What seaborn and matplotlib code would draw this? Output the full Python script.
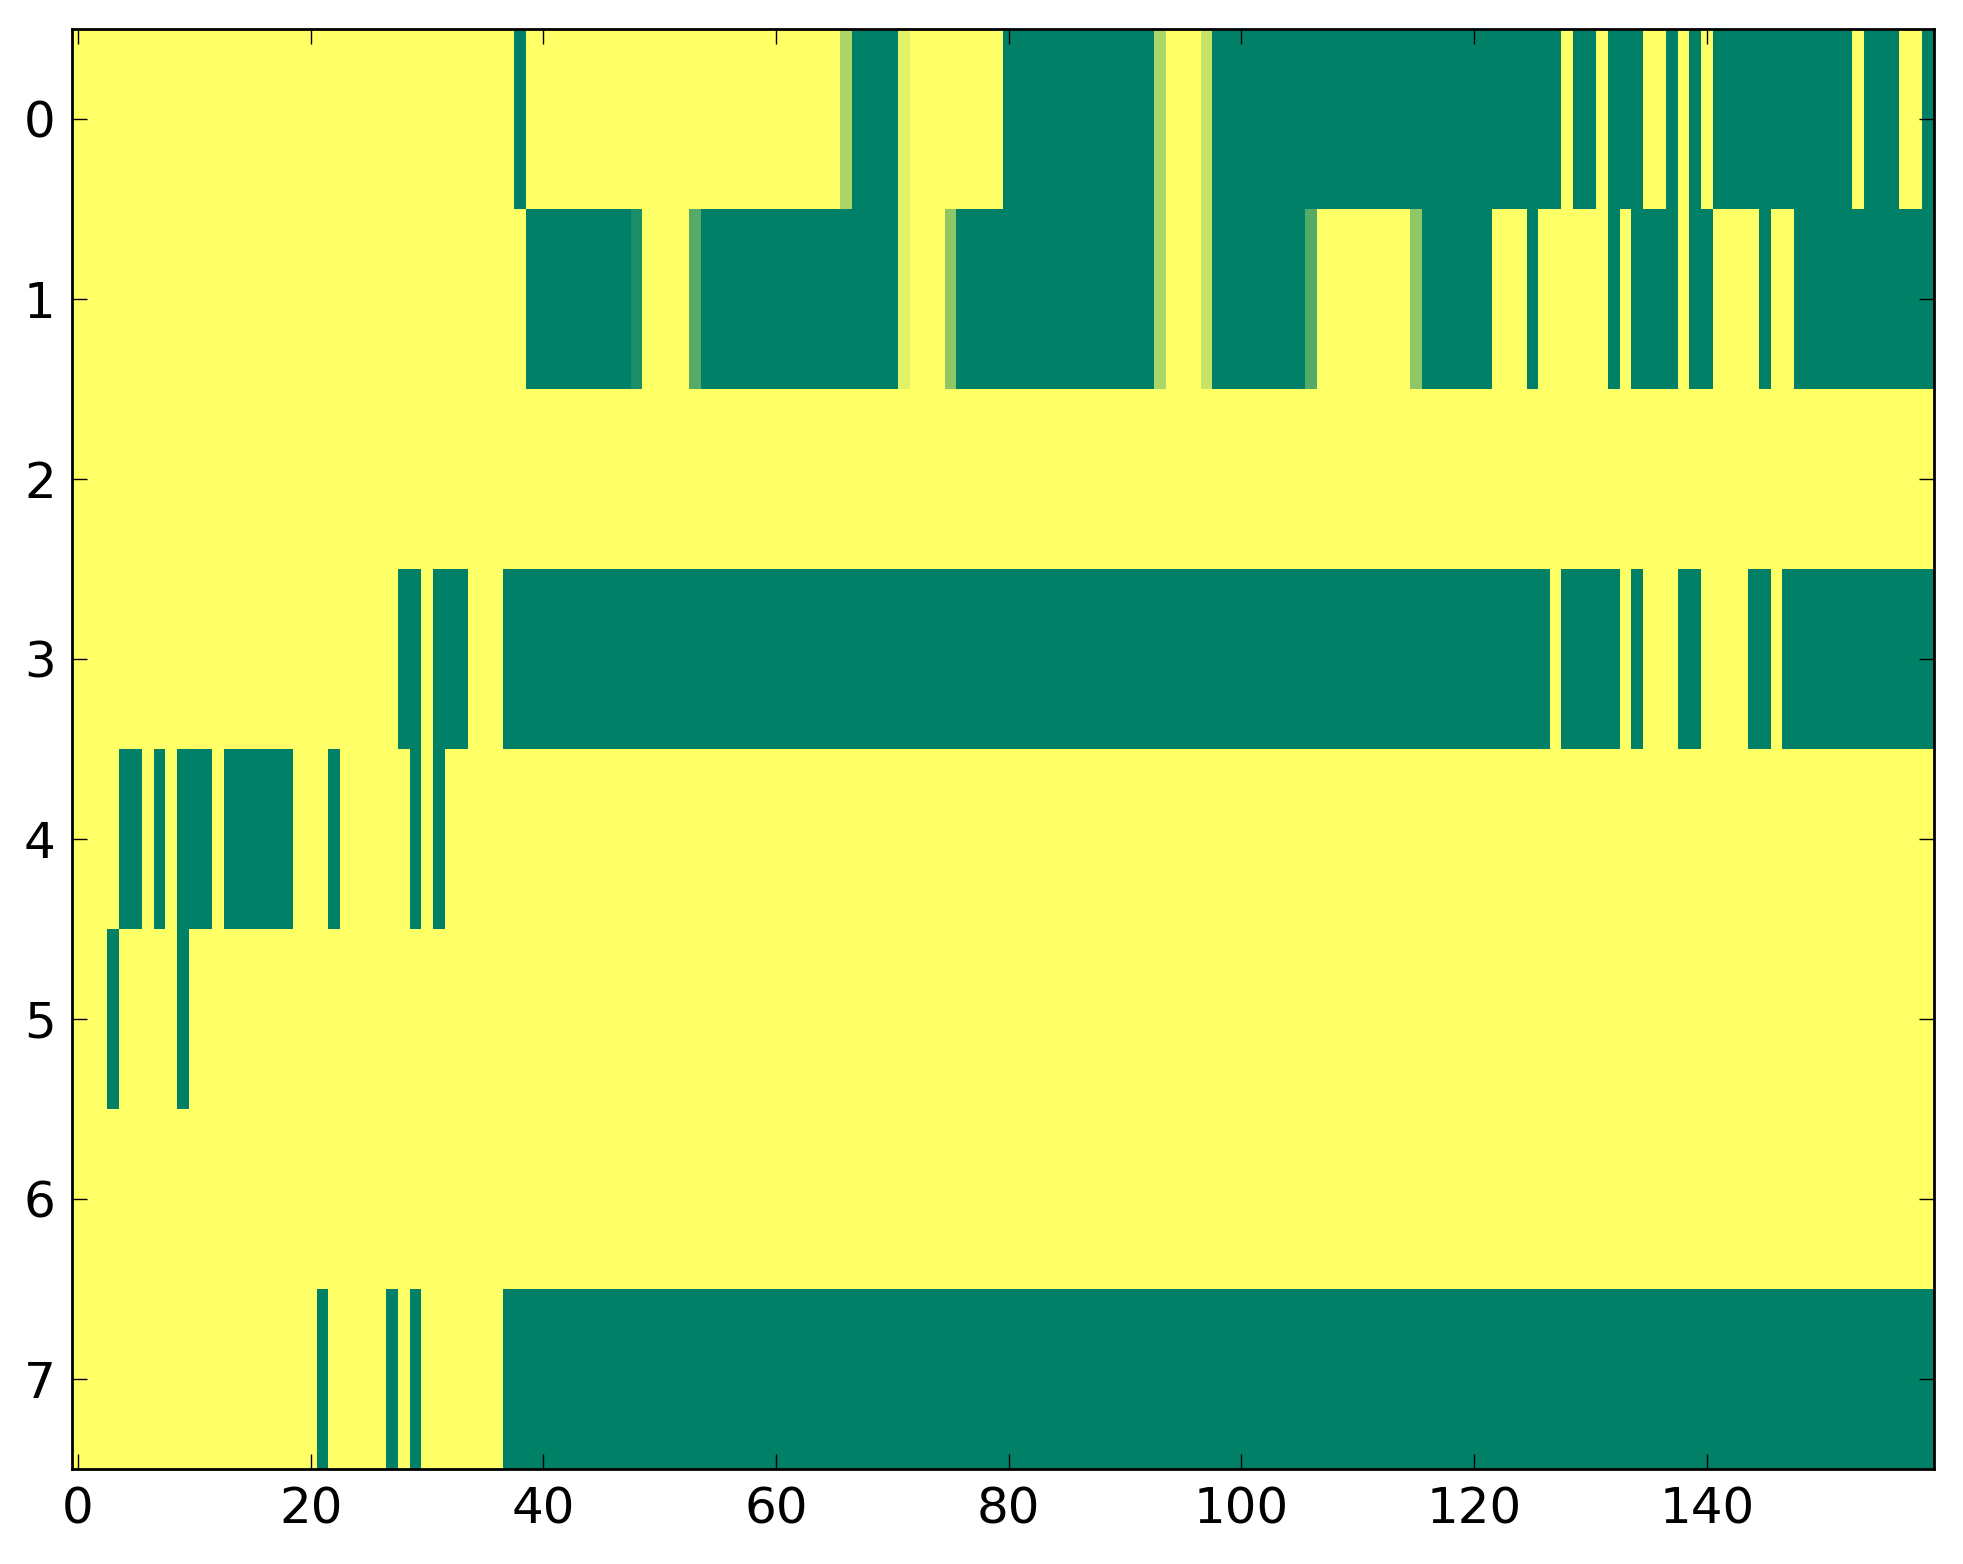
import numpy as np
import pandas as pd
import matplotlib
matplotlib.use("Agg")
import matplotlib.pyplot as plt
import seaborn as sns

# Estilo geral
sns.set_style("white")
plt.rcParams["font.family"] = ["DejaVu Sans"]

# =============================================
# Dados: cada linha como (valor, quantidade de colunas), da esquerda p/ direita
# =============================================
n_colunas = 160

linha0 = [(1, 38), (0, 1), (1, 27), (0.67, 1), (0, 4), (0.89, 1), (1, 8), (0, 13),
          (0.67, 1), (1, 3), (0.78, 1), (0, 30), (1, 1), (0, 2), (1, 1), (0, 3),
          (1, 2), (0, 1), (1, 1), (0, 1), (1, 1), (0, 12), (1, 1), (0, 3), (1, 2), (0, 1)]
linha1 = [(1, 39), (0, 9), (0.11, 1), (1, 4), (0.33, 1), (0, 17), (0.89, 1), (1, 3),
          (0.56, 1), (0, 17), (0.67, 1), (1, 3), (0.78, 1), (0, 8), (0.33, 1), (1, 8),
          (0.56, 1), (0, 6), (1, 3), (0, 1), (1, 6), (0, 1), (1, 1), (0, 4), (1, 1),
          (0, 2), (1, 4), (0, 1), (1, 2), (0, 12)]
linha2 = [(1, 160)]
linha3 = [(1, 28), (0, 2), (1, 1), (0, 3), (1, 3), (0, 90), (1, 1), (0, 5), (1, 1),
          (0, 1), (1, 3), (0, 2), (1, 4), (0, 2), (1, 1), (0, 13)]
linha4 = [(1, 4), (0, 2), (1, 1), (0, 1), (1, 1), (0, 3), (1, 1), (0, 6), (1, 3),
          (0, 1), (1, 6), (0, 1), (1, 1), (0, 1), (1, 128)]
linha5 = [(1, 3), (0, 1), (1, 5), (0, 1), (1, 150)]
linha6 = [(1, 160)]
linha7 = [(1, 21), (0, 1), (1, 5), (0, 1), (1, 1), (0, 1), (1, 7), (0, 123)]

linhas = [linha0, linha1, linha2, linha3, linha4, linha5, linha6, linha7]

x_ticks = list(range(0, 160, 20))
y_ticks = list(range(8))


def expandir(runs):
    valores = np.repeat([v for v, _ in runs], [n for _, n in runs])
    assert len(valores) == n_colunas
    return valores


df = pd.DataFrame([expandir(r) for r in linhas])

# =============================================
# Gráfico
# =============================================
W, H, DPI = 1963, 1564, 200
fig = plt.figure(figsize=(W / DPI, H / DPI), dpi=DPI)
ax = fig.add_axes([72.3 / W, 1 - 1468.7 / H, (1933.7 - 72.3) / W, 1440 / H])

sns.heatmap(df, cmap="summer", vmin=0, vmax=1, cbar=False,
            xticklabels=False, yticklabels=False, ax=ax)

# heatmap centra as células em +0.5
ax.set_xticks([t + 0.5 for t in x_ticks])
ax.set_xticklabels([str(t) for t in x_ticks])
ax.set_yticks([t + 0.5 for t in y_ticks])
ax.set_yticklabels([str(t) for t in y_ticks], rotation=0)

# ticks por cima da imagem (o estilo do seaborn os coloca por baixo)
ax.set_axisbelow(False)

for s in ax.spines.values():
    s.set_visible(True)
    s.set_color("black")
    s.set_linewidth(1.0)

ax.tick_params(direction="in", top=True, right=True, bottom=True, left=True,
               length=5.3, width=0.5, color="black", labelcolor="black",
               labelsize=18, pad=6)

fig.savefig("out.png", dpi=DPI)
plt.close(fig)
print("out.png gerado")
